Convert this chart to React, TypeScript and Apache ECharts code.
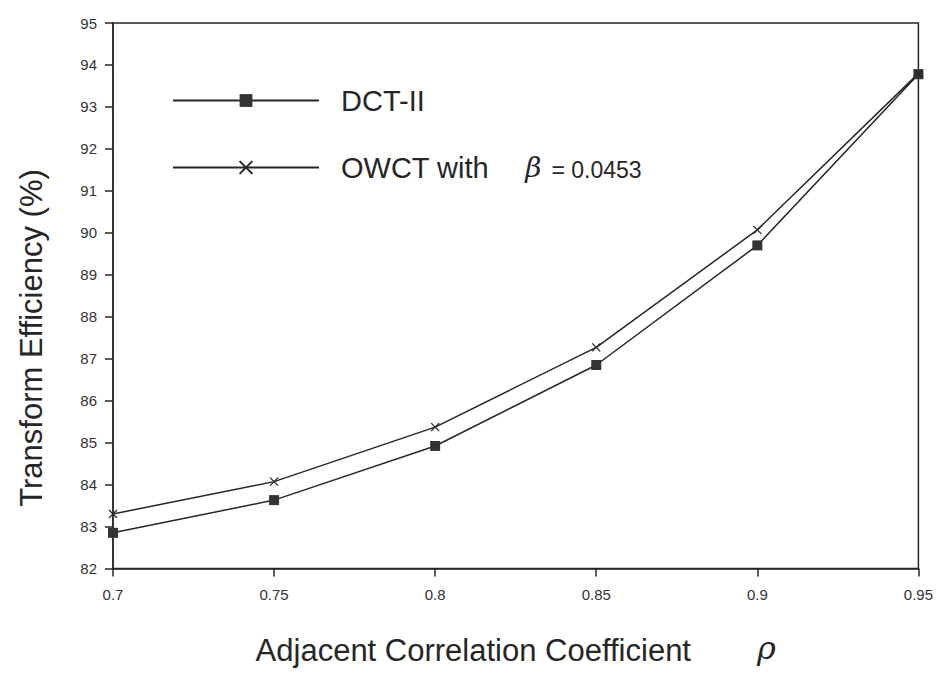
import React, { useEffect, useRef } from "react";
import * as echarts from "echarts";

const rhoValues = [0.7, 0.75, 0.8, 0.85, 0.9, 0.95];
const dctValues = [82.85, 83.63, 84.92, 86.85, 89.7, 93.78];
const owctValues = [83.3, 84.07, 85.37, 87.27, 90.07, 93.8];
const seriesNames = ["DCT-II", "OWCT with β = 0.0453"];

const FONT = "'Liberation Sans', Arial, Helvetica, sans-serif";
const INK = "#262626";

export default function App() {
  const ref = useRef<HTMLDivElement>(null);
  useEffect(() => {
    if (!ref.current) return;
    const chart = echarts.init(ref.current, undefined, { renderer: "svg" });
    const crossPath = "path://M0,0L10,10M10,0L0,10";
    chart.setOption({
      animation: false,
      backgroundColor: "#ffffff",
      textStyle: { fontFamily: FONT },
      grid: {
        left: 105,
        right: 11,
        top: 15,
        bottom: 89,
        show: true,
        borderColor: INK,
        borderWidth: 1.5,
        backgroundColor: "transparent",
      },
      legend: {
        orient: "vertical",
        left: 159,
        top: 73,
        itemWidth: 146,
        itemHeight: 16,
        itemGap: 38,
        data: seriesNames,
        selectedMode: false,
        formatter: (name: string) =>
          name === seriesNames[0]
            ? "{t|DCT-II}"
            : "{t|OWCT with}{b|β}{s|= 0.0453}",
        textStyle: {
          padding: [0, 0, 0, 17],
          rich: {
            t: { fontFamily: FONT, fontSize: 29, color: INK, lineHeight: 34 },
            b: {
              fontFamily: "'DejaVu Serif', serif",
              fontStyle: "italic",
              fontSize: 28,
              color: INK,
              padding: [0, 10, 0, 36],
              lineHeight: 34,
            },
            s: { fontFamily: FONT, fontSize: 23, color: INK, lineHeight: 34, padding: [4, 0, 0, 0] },
          },
        },
      },
      xAxis: {
        type: "value",
        min: 0.7,
        max: 0.95,
        interval: 0.05,
        axisLine: { show: true, lineStyle: { color: INK, width: 1.5 } },
        axisTick: { show: true, inside: false, length: 8, lineStyle: { color: INK, width: 1.5 } },
        axisLabel: {
          fontSize: 15,
          color: "#333",
          margin: 18,
          fontFamily: FONT,
          formatter: (v: number) => String(Math.round(v * 100) / 100),
        },
        splitLine: { show: false },
        name: "{t|Adjacent Correlation Coefficient}{r|ρ}",
        nameLocation: "middle",
        nameGap: 63,
        nameTextStyle: {
          rich: {
            t: { fontFamily: FONT, fontSize: 31, color: INK },
            r: {
              fontFamily: "'DejaVu Serif', serif",
              fontStyle: "italic",
              fontSize: 32,
              color: INK,
              padding: [0, 0, 6, 66],
            },
          },
        },
      },
      yAxis: {
        type: "value",
        min: 82,
        max: 95,
        interval: 1,
        axisLine: { show: true, lineStyle: { color: INK, width: 1.5 } },
        axisTick: { show: true, inside: false, length: 8, lineStyle: { color: INK, width: 1.5 } },
        axisLabel: { fontSize: 15, color: "#333", margin: 16, fontFamily: FONT },
        splitLine: { show: false },
      },
      graphic: [
        {
          type: "text",
          x: 23,
          y: 330,
          rotation: Math.PI / 2,
          style: {
            text: "Transform Efficiency (%)",
            fontFamily: FONT,
            fontSize: 31,
            fill: INK,
            align: "center",
            verticalAlign: "middle",
          },
        },
      ],
      series: [
        {
          name: seriesNames[0],
          type: "line",
          data: rhoValues.map((x, i) => [x, dctValues[i]]),
          symbol: "rect",
          symbolSize: 10,
          showAllSymbol: true,
          lineStyle: { color: INK, width: 1.5 },
          itemStyle: { color: "#333" },
        },
        {
          name: seriesNames[1],
          type: "line",
          data: rhoValues.map((x, i) => [x, owctValues[i]]),
          symbol: crossPath,
          symbolSize: 8,
          showAllSymbol: true,
          lineStyle: { color: INK, width: 1.5 },
          itemStyle: { color: "transparent", borderColor: INK, borderWidth: 1.3 },
        },
      ],
    });
    return () => chart.dispose();
  }, []);
  return <div ref={ref} style={{ width: 928, height: 663 }} />;
}
